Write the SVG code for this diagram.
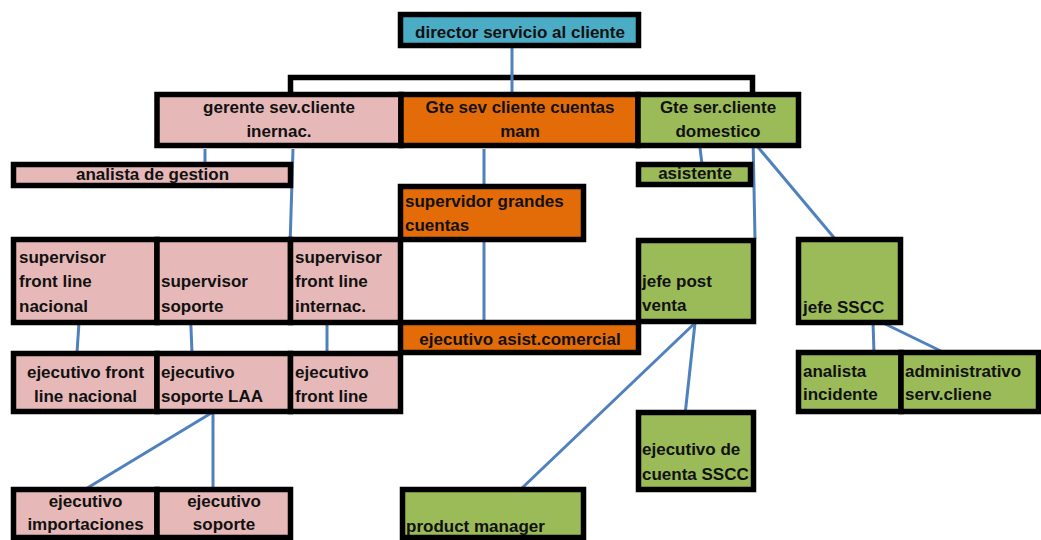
<svg xmlns="http://www.w3.org/2000/svg" width="1041" height="540" viewBox="0 0 1041 540">
  <style>
    .box { stroke: #000; stroke-width: 5.5; }
    .pink { fill: #E6B9B8; }
    .orange { fill: #E36C09; }
    .green { fill: #9BBB59; }
    .cyan { fill: #4BACC6; }
    text { font-family: "Liberation Sans", Arial, sans-serif; font-weight: bold; font-size: 17px; fill: #111; }
    .c { text-anchor: middle; }
    .link { stroke: #4F81BD; stroke-width: 3; fill: none; }
    .bracket { stroke: #000; stroke-width: 5.5; fill: none; }
  </style>

  <rect width="1041" height="540" fill="#fff"/>

  <!-- connectors -->
  <g id="connectors">
    <path class="bracket" d="M290.5,94 V77.5 H752.5 V94"/>
    <line class="link" x1="512" y1="48" x2="512" y2="93"/>
    <line class="link" x1="205" y1="149" x2="205" y2="163"/>
    <line class="link" x1="293" y1="149" x2="290" y2="246"/>
    <line class="link" x1="484" y1="149" x2="484" y2="185"/>
    <line class="link" x1="700" y1="148" x2="702" y2="164"/>
    <line class="link" x1="753" y1="137" x2="755" y2="239"/>
    <line class="link" x1="757" y1="146" x2="836" y2="240"/>
    <line class="link" x1="484" y1="242" x2="484" y2="323"/>
    <line class="link" x1="79" y1="322" x2="77" y2="353"/>
    <line class="link" x1="190" y1="303" x2="192" y2="353"/>
    <line class="link" x1="327" y1="321" x2="327" y2="355"/>
    <line class="link" x1="213" y1="412" x2="84" y2="490"/>
    <line class="link" x1="213" y1="412" x2="213" y2="490"/>
    <line class="link" x1="695" y1="323" x2="685" y2="415"/>
    <line class="link" x1="695" y1="323" x2="521" y2="489"/>
    <line class="link" x1="873" y1="322" x2="874" y2="353"/>
    <line class="link" x1="877" y1="320" x2="947" y2="354"/>
  </g>

  <g id="director">
    <rect class="box cyan" x="400.5" y="14.5" width="238" height="31"/>
    <text class="c" x="520" y="38">director servicio al cliente</text>
  </g>

  <g id="gerente-internac">
    <rect class="box pink" x="157" y="94.5" width="244" height="51"/>
    <text class="c" x="279" y="113">gerente sev.cliente</text>
    <text class="c" x="279" y="137">inernac.</text>
  </g>
  <g id="gte-cuentas-mam">
    <rect class="box orange" x="401" y="94.5" width="237" height="51"/>
    <text class="c" x="520" y="113">Gte sev cliente cuentas</text>
    <text class="c" x="520" y="137">mam</text>
  </g>
  <g id="gte-domestico">
    <rect class="box green" x="638" y="94.5" width="160.5" height="51"/>
    <text class="c" x="718" y="113">Gte ser.cliente</text>
    <text class="c" x="718" y="137">domestico</text>
  </g>

  <g id="analista-gestion">
    <rect class="box pink" x="13.5" y="164.5" width="277" height="21"/>
    <text class="c" x="152.5" y="180">analista de gestion</text>
  </g>
  <g id="asistente">
    <rect class="box green" x="638.5" y="164.5" width="112" height="20"/>
    <text class="c" x="695" y="179">asistente</text>
  </g>

  <g id="supervidor-grandes-cuentas">
    <rect class="box orange" x="400.5" y="186.5" width="183" height="53"/>
    <text x="405" y="207">supervidor grandes</text>
    <text x="405" y="231">cuentas</text>
  </g>

  <g id="supervisor-fl-nacional">
    <rect class="box pink" x="13.5" y="239.5" width="143.5" height="83"/>
    <text x="19" y="263">supervisor</text>
    <text x="19" y="287">front line</text>
    <text x="19" y="312">nacional</text>
  </g>
  <g id="supervisor-soporte">
    <rect class="box pink" x="157" y="239.5" width="133.5" height="83"/>
    <text x="161" y="287">supervisor</text>
    <text x="161" y="312">soporte</text>
  </g>
  <g id="supervisor-fl-internac">
    <rect class="box pink" x="290.5" y="239.5" width="110" height="83"/>
    <text x="295" y="263">supervisor</text>
    <text x="295" y="287">front line</text>
    <text x="295" y="312">internac.</text>
  </g>

  <g id="ejecutivo-asist-comercial">
    <rect class="box orange" x="400.5" y="322.5" width="238" height="30"/>
    <text class="c" x="520" y="345">ejecutivo asist.comercial</text>
  </g>

  <g id="jefe-post-venta">
    <rect class="box green" x="638.5" y="240.5" width="115" height="81"/>
    <text x="642" y="287">jefe post</text>
    <text x="642" y="311">venta</text>
  </g>

  <g id="jefe-sscc">
    <rect class="box green" x="798.5" y="239.5" width="102" height="83"/>
    <text x="803" y="313">jefe SSCC</text>
  </g>

  <g id="ejecutivo-fl-nacional">
    <rect class="box pink" x="13.5" y="353.5" width="143.5" height="58"/>
    <text class="c" x="85.5" y="378">ejecutivo front</text>
    <text class="c" x="85.5" y="402">line nacional</text>
  </g>
  <g id="ejecutivo-soporte-laa">
    <rect class="box pink" x="157" y="353.5" width="133.5" height="58"/>
    <text x="161" y="378">ejecutivo</text>
    <text x="161" y="402">soporte LAA</text>
  </g>
  <g id="ejecutivo-front-line">
    <rect class="box pink" x="290.5" y="353.5" width="110" height="58"/>
    <text x="295" y="378">ejecutivo</text>
    <text x="295" y="402">front line</text>
  </g>

  <g id="analista-incidente">
    <rect class="box green" x="798.5" y="352.5" width="102.5" height="59"/>
    <text x="803" y="377">analista</text>
    <text x="803" y="400">incidente</text>
  </g>
  <g id="administrativo">
    <rect class="box green" x="901" y="352.5" width="137.5" height="59"/>
    <text x="905" y="377">administrativo</text>
    <text x="905" y="400">serv.cliene</text>
  </g>

  <g id="ejecutivo-cuenta-sscc">
    <rect class="box green" x="638.5" y="412.5" width="115" height="77"/>
    <text x="642" y="455">ejecutivo de</text>
    <text x="642" y="480">cuenta SSCC</text>
  </g>

  <g id="ejecutivo-importaciones">
    <rect class="box pink" x="13.5" y="489.5" width="143.5" height="48"/>
    <text class="c" x="85.5" y="507">ejecutivo</text>
    <text class="c" x="85.5" y="530">importaciones</text>
  </g>
  <g id="ejecutivo-soporte">
    <rect class="box pink" x="157" y="489.5" width="133.5" height="48"/>
    <text class="c" x="224" y="507">ejecutivo</text>
    <text class="c" x="224" y="530">soporte</text>
  </g>

  <g id="product-manager">
    <rect class="box green" x="402.5" y="489.5" width="181" height="48"/>
    <text x="406" y="532">product manager</text>
  </g>
</svg>
